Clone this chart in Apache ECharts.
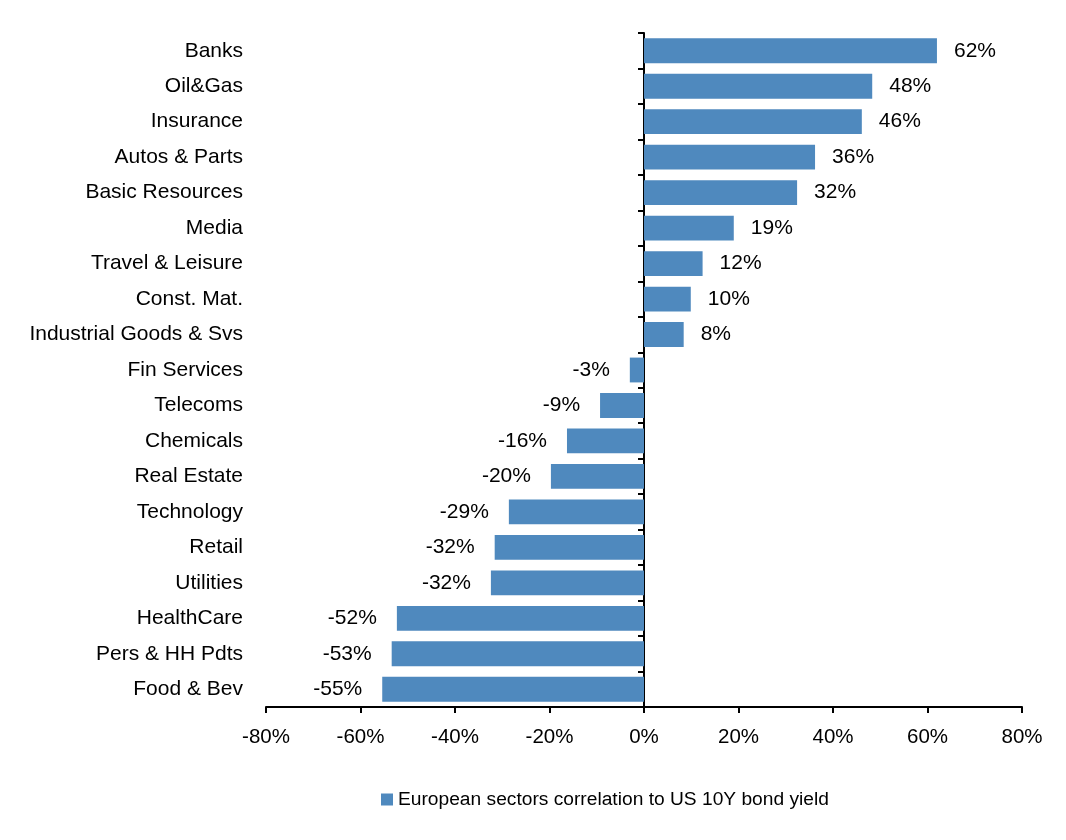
<!DOCTYPE html>
<html>
<head>
<meta charset="utf-8">
<script src="https://cdn.jsdelivr.net/npm/echarts@6/dist/echarts.min.js"></script>
<style>html,body{margin:0;padding:0;background:#fff}#c{width:1066px;height:840px}</style>
</head>
<body>
<div id="c"></div>
<script>
const categories = ["Banks","Oil&Gas","Insurance","Autos & Parts","Basic Resources","Media","Travel & Leisure","Const. Mat.","Industrial Goods & Svs","Fin Services","Telecoms","Chemicals","Real Estate","Technology","Retail","Utilities","HealthCare","Pers & HH Pdts","Food & Bev"];
const values = [62.0,48.3,46.1,36.2,32.4,19.0,12.4,9.9,8.4,-3.0,-9.3,-16.3,-19.7,-28.6,-31.6,-32.4,-52.3,-53.4,-55.4];
const seriesName = "European sectors correlation to US 10Y bond yield";
const xTicks = {min:-80, max:80, interval:20};

const font = "'Liberation Sans', Arial, sans-serif";
const chart = echarts.init(document.getElementById('c'));
chart.setOption({
  animation:false,
  grid:{left:266,right:44,top:33,bottom:133,containLabel:false,outerBoundsMode:'none'},
  legend:{
    data:[seriesName], left:376, top:785, icon:'rect', itemWidth:12, itemHeight:12, itemGap:6,
    textStyle:{fontFamily:font,fontSize:19.2,color:'#000'}
  },
  xAxis:{
    type:'value', min:xTicks.min, max:xTicks.max, interval:xTicks.interval,
    axisLine:{show:true,lineStyle:{color:'#000',width:2}},
    axisTick:{show:true,length:6,lineStyle:{color:'#000',width:2}},
    splitLine:{show:false},
    axisLabel:{formatter:'{value}%',fontFamily:font,fontSize:20.5,color:'#000',margin:20}
  },
  yAxis:[
    {type:'category',data:categories,inverse:true,position:'left',
     axisLine:{show:false,onZero:false},axisTick:{show:false},
     axisLabel:{fontFamily:font,fontSize:21,color:'#000',margin:23}},
    {type:'category',data:categories,inverse:true,position:'left',
     axisLine:{show:true,onZero:true,lineStyle:{color:'#000',width:2}},
     axisTick:{show:true,length:6,interval:0,lineStyle:{color:'#000',width:2}},
     axisLabel:{show:false}}
  ],
  series:[{
    name:seriesName,type:'bar',yAxisIndex:0,barCategoryGap:'30%',
    itemStyle:{color:'#4F89BE'},
    data:values.map(v=>({value:v,label:{position:v>=0?'right':'left',distance:v>=0?17:20}})),
    label:{show:true,fontFamily:font,fontSize:21,color:'#000',
      formatter:p=>Math.round(p.value)+'%'}
  }]
});
</script>
</body>
</html>
